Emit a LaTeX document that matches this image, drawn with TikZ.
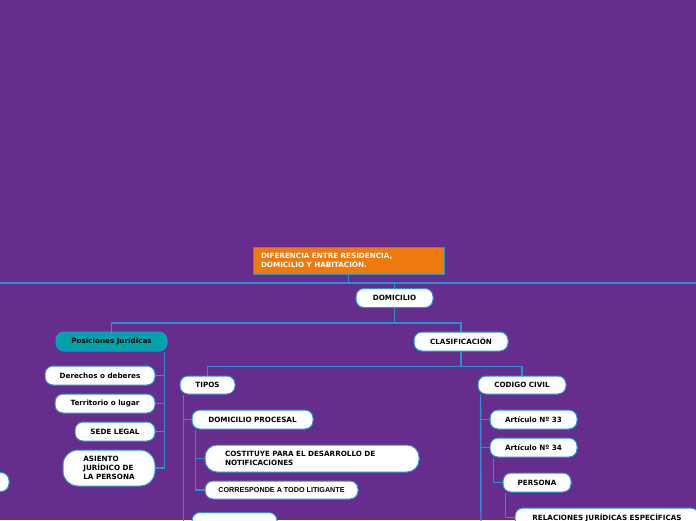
\documentclass[tikz,border=0pt]{standalone}
\usepackage{fontspec}
\setmainfont{DejaVu Sans}
\newfontfamily\arialfont{Liberation Sans}
\usetikzlibrary{positioning}

\definecolor{bgpurple}{RGB}{102,45,140}
\definecolor{lineblue}{RGB}{38,146,214}
\definecolor{mmorange}{RGB}{238,122,14}
\definecolor{mmteal}{RGB}{0,164,168}

\newcommand{\mmfont}{\bfseries\fontsize{7.2}{8.8}\selectfont}

\begin{document}
\begin{tikzpicture}[x=1pt,y=-1pt,
  title/.style={rectangle,draw=lineblue,line width=1pt,fill=mmorange,text=white,align=left,text width=175pt,inner xsep=8pt,inner ysep=0pt,minimum height=27pt,font=\mmfont},
  topic/.style={rectangle,draw=lineblue,line width=1pt,fill=white,rounded corners=8pt,inner sep=0pt,minimum height=19pt,minimum width=#1,align=center,font=\mmfont},
  link/.style={draw=lineblue,line width=1.4pt},
]

\useasboundingbox (0,0) rectangle (696,520);
\clip (0,0) rectangle (696,520);
\fill[bgpurple] (0,0) rectangle (696,520);

% Central topic
\node[title] (title) at (348.5,260.5) {DIFERENCIA ENTRE RESIDENCIA,\\DOMICILIO Y HABITACIÓN.};
\node[topic=77] (domicilio) at (394.5,298) {DOMICILIO};

% Posiciones juridicas branch
\node[topic=111,fill=mmteal] (posiciones) at (111.5,341.5) {Posiciones Jurídicas};
\node[topic=110] (derechos) at (100,375.5) {Derechos o deberes};
\node[topic=100] (territorio) at (105,403.5) {Territorio o lugar};
\node[topic=80] (sede) at (115,431.5) {SEDE LEGAL};
\node[topic=92,minimum height=36pt,rounded corners=15pt,align=left] (asiento) at (109,468) {ASIENTO\\JURÍDICO DE\\LA PERSONA};
\node[topic=58] (leftCut) at (-20,482) {};

% Clasificacion branch
\node[topic=94] (clasif) at (461,341.5) {CLASIFICACIÓN};
\node[topic=55,minimum height=18pt] (tipos) at (207.5,385) {TIPOS};
\node[topic=88,minimum height=18pt] (codigo) at (522,385) {CODIGO CIVIL};

% Tipos
\node[topic=121] (procesal) at (252.5,419.5) {DOMICILIO PROCESAL};
\node[topic=214,text width=174pt,inner xsep=20pt,minimum height=27pt,rounded corners=12pt,align=left] (costituye) at (312,458.5) {COSTITUYE PARA EL DESARROLLO DE\\NOTIFICACIONES};
\node[topic=153,minimum height=18pt,font=\arialfont\bfseries\fontsize{7.2}{8.8}\selectfont] (corresponde) at (281.5,490) {CORRESPONDE A TODO LITIGANTE};
\node[topic=85] (nextTipo) at (234.5,522) {};

% Codigo civil
\node[topic=87] (art33) at (533.5,419.5) {Artículo Nº 33};
\node[topic=87] (art34) at (533.5,447.5) {Artículo Nº 34};
\node[topic=68] (persona) at (537,482.5) {PERSONA};
\node[topic=184] (relaciones) at (607,517.5) {RELACIONES JURÍDICAS ESPECÍFICAS};
\coordinate (civilEnd) at (481,525);

% Connectors
\coordinate (trunkL) at (0,283);
\coordinate (trunkR) at (696,283);
\draw[link] (trunkL) -- (trunkR);
\draw[link] (title.south) -- (title.south |- trunkL);
\draw[link] (domicilio.north) -- (domicilio.north |- trunkL);
\draw[link] (domicilio.south) -- ++(0,15) -| (posiciones.north);
\draw[link] (domicilio.south) -- ++(0,15) -| (clasif.north);

\draw[link] ([xshift=-3pt]posiciones.south east) |- (derechos.east);
\draw[link] ([xshift=-3pt]posiciones.south east) |- (territorio.east);
\draw[link] ([xshift=-3pt]posiciones.south east) |- (sede.east);
\draw[link] ([xshift=-3pt]posiciones.south east) |- (asiento.east);

\draw[link] (clasif.south) -- ++(0,15) -| (tipos.north);
\draw[link] (clasif.south) -- ++(0,15) -| (codigo.north);

\draw[link] ([xshift=4pt]tipos.south west) |- (procesal.west);
\draw[link] ([xshift=4pt]tipos.south west) |- (nextTipo.west);
\draw[link] ([xshift=4pt]procesal.south west) |- (costituye.west);
\draw[link] ([xshift=4pt]procesal.south west) |- (corresponde.west);

\draw[link] ([xshift=3pt]codigo.south west) |- (art33.west);
\draw[link] ([xshift=3pt]codigo.south west) |- (art34.west);
\draw[link] ([xshift=3pt]codigo.south west) -- (civilEnd);
\draw[link] ([xshift=4pt]art34.south west) |- (persona.west);
\draw[link] ([xshift=3pt]persona.south west) |- (relaciones.west);

\end{tikzpicture}
\end{document}
